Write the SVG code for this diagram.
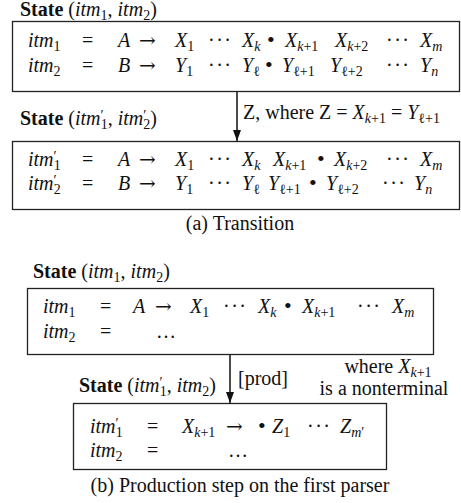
<svg xmlns="http://www.w3.org/2000/svg" width="461" height="503" viewBox="0 0 461 503" font-family="Liberation Serif, DejaVu Serif, serif">
  <style>
    text { font-family: "Liberation Serif", "DejaVu Serif", serif; font-size: 20px; fill: #111; }
    .i { font-style: italic; }
    .b { font-weight: bold; }
    .s { font-size: 14px; }
    .dots { letter-spacing: 1.5px; }
    .bul { font-size: 22px; }
    .arr { font-family: "DejaVu Serif", serif; font-size: 20px; }
    .mid { text-anchor: middle; }
    .box { fill: #fff; stroke: #222; stroke-width: 1.3; }
    .edge { stroke: #111; stroke-width: 1.5; fill: none; marker-end: url(#ah); }
  </style>
  <defs>
    <marker id="ah" viewBox="0 0 11 8" refX="11" refY="4" markerWidth="11" markerHeight="8" markerUnits="userSpaceOnUse" orient="auto">
      <path d="M0,0 L11,4 L0,8 z" fill="#111"/>
    </marker>
  </defs>

  <!-- (a) source state -->
  <g id="state-a1">
    <text x="20" y="16"><tspan class="b">State</tspan> (<tspan class="i">itm</tspan><tspan class="s" dy="4">1</tspan><tspan dy="-4">, </tspan><tspan class="i">itm</tspan><tspan class="s" dy="4">2</tspan><tspan dy="-4">)</tspan></text>
    <rect class="box" x="12.5" y="21.5" width="447" height="70"/>
    <text x="28" y="47"><tspan class="i">itm</tspan><tspan class="s" dy="4">1</tspan></text>
    <text x="82" y="47">=</text>
    <text x="118" y="47" class="i">A</text>
    <text x="139" y="47" class="arr">→</text>
    <text x="175" y="47"><tspan class="i">X</tspan><tspan class="s" dy="4">1</tspan></text>
    <text x="208" y="47" class="dots">···</text>
    <text x="242" y="47"><tspan class="i">X</tspan><tspan class="s i" dy="4">k</tspan></text>
    <text x="267" y="47" class="bul">•</text>
    <text x="285" y="47"><tspan class="i">X</tspan><tspan class="s" dy="4"><tspan class="i">k</tspan>+1</tspan></text>
    <text x="335" y="47"><tspan class="i">X</tspan><tspan class="s" dy="4"><tspan class="i">k</tspan>+2</tspan></text>
    <text x="386" y="47" class="dots">···</text>
    <text x="420" y="47"><tspan class="i">X</tspan><tspan class="s i" dy="4">m</tspan></text>

    <text x="28" y="72"><tspan class="i">itm</tspan><tspan class="s" dy="4">2</tspan></text>
    <text x="82" y="72">=</text>
    <text x="118" y="72" class="i">B</text>
    <text x="139" y="72" class="arr">→</text>
    <text x="175" y="72"><tspan class="i">Y</tspan><tspan class="s" dy="4">1</tspan></text>
    <text x="208" y="72" class="dots">···</text>
    <text x="242" y="72"><tspan class="i">Y</tspan><tspan class="s" dy="4">ℓ</tspan></text>
    <text x="265" y="72" class="bul">•</text>
    <text x="282" y="72"><tspan class="i">Y</tspan><tspan class="s" dy="4">ℓ+1</tspan></text>
    <text x="330" y="72"><tspan class="i">Y</tspan><tspan class="s" dy="4">ℓ+2</tspan></text>
    <text x="386" y="72" class="dots">···</text>
    <text x="420" y="72"><tspan class="i">Y</tspan><tspan class="s i" dy="4">n</tspan></text>
  </g>

  <!-- (a) target state -->
  <g id="state-a2">
    <text x="20" y="125"><tspan class="b">State</tspan> (<tspan class="i">itm</tspan><tspan class="s" dy="-5">′</tspan><tspan class="s" dx="-3" dy="9">1</tspan><tspan dy="-4">, </tspan><tspan class="i">itm</tspan><tspan class="s" dy="-5">′</tspan><tspan class="s" dx="-3" dy="9">2</tspan><tspan dy="-4">)</tspan></text>
    <rect class="box" x="12.5" y="141.5" width="447" height="68"/>
    <text x="28" y="166"><tspan class="i">itm</tspan><tspan class="s" dy="-5">′</tspan><tspan class="s" dx="-3" dy="9">1</tspan></text>
    <text x="82" y="166">=</text>
    <text x="118" y="166" class="i">A</text>
    <text x="139" y="166" class="arr">→</text>
    <text x="175" y="166"><tspan class="i">X</tspan><tspan class="s" dy="4">1</tspan></text>
    <text x="208" y="166" class="dots">···</text>
    <text x="242" y="166"><tspan class="i">X</tspan><tspan class="s i" dy="4">k</tspan></text>
    <text x="273" y="166"><tspan class="i">X</tspan><tspan class="s" dy="4"><tspan class="i">k</tspan>+1</tspan></text>
    <text x="317" y="166" class="bul">•</text>
    <text x="334" y="166"><tspan class="i">X</tspan><tspan class="s" dy="4"><tspan class="i">k</tspan>+2</tspan></text>
    <text x="386" y="166" class="dots">···</text>
    <text x="420" y="166"><tspan class="i">X</tspan><tspan class="s i" dy="4">m</tspan></text>

    <text x="28" y="190"><tspan class="i">itm</tspan><tspan class="s" dy="-5">′</tspan><tspan class="s" dx="-3" dy="9">2</tspan></text>
    <text x="82" y="190">=</text>
    <text x="118" y="190" class="i">B</text>
    <text x="139" y="190" class="arr">→</text>
    <text x="175" y="190"><tspan class="i">Y</tspan><tspan class="s" dy="4">1</tspan></text>
    <text x="208" y="190" class="dots">···</text>
    <text x="242" y="190"><tspan class="i">Y</tspan><tspan class="s" dy="4">ℓ</tspan></text>
    <text x="268" y="190"><tspan class="i">Y</tspan><tspan class="s" dy="4">ℓ+1</tspan></text>
    <text x="309" y="190" class="bul">•</text>
    <text x="326" y="190"><tspan class="i">Y</tspan><tspan class="s" dy="4">ℓ+2</tspan></text>
    <text x="382" y="190" class="dots">···</text>
    <text x="414" y="190"><tspan class="i">Y</tspan><tspan class="s i" dy="4">n</tspan></text>
  </g>

  <!-- (b) source state -->
  <g id="state-b1">
    <text x="33" y="278"><tspan class="b">State</tspan> (<tspan class="i">itm</tspan><tspan class="s" dy="4">1</tspan><tspan dy="-4">, </tspan><tspan class="i">itm</tspan><tspan class="s" dy="4">2</tspan><tspan dy="-4">)</tspan></text>
    <rect class="box" x="27.5" y="288.5" width="406" height="66"/>
    <text x="43" y="313"><tspan class="i">itm</tspan><tspan class="s" dy="4">1</tspan></text>
    <text x="100" y="313">=</text>
    <text x="133" y="313" class="i">A</text>
    <text x="155" y="313" class="arr">→</text>
    <text x="190" y="313"><tspan class="i">X</tspan><tspan class="s" dy="4">1</tspan></text>
    <text x="223" y="313" class="dots">···</text>
    <text x="258" y="313"><tspan class="i">X</tspan><tspan class="s i" dy="4">k</tspan></text>
    <text x="284" y="313" class="bul">•</text>
    <text x="302" y="313"><tspan class="i">X</tspan><tspan class="s" dy="4"><tspan class="i">k</tspan>+1</tspan></text>
    <text x="357" y="313" class="dots">···</text>
    <text x="392" y="313"><tspan class="i">X</tspan><tspan class="s i" dy="4">m</tspan></text>

    <text x="43" y="338"><tspan class="i">itm</tspan><tspan class="s" dy="4">2</tspan></text>
    <text x="100" y="338">=</text>
    <text x="156" y="338">…</text>
  </g>

  <!-- (b) target state -->
  <g id="state-b2">
    <text x="79" y="392"><tspan class="b">State</tspan> (<tspan class="i">itm</tspan><tspan class="s" dy="-5">′</tspan><tspan class="s" dx="-3" dy="9">1</tspan><tspan dy="-4">, </tspan><tspan class="i">itm</tspan><tspan class="s" dy="4">2</tspan><tspan dy="-4">)</tspan></text>
    <rect class="box" x="73.5" y="403.5" width="313" height="66"/>
    <text x="90" y="433"><tspan class="i">itm</tspan><tspan class="s" dy="-5">′</tspan><tspan class="s" dx="-3" dy="9">1</tspan></text>
    <text x="147" y="433">=</text>
    <text x="182" y="433"><tspan class="i">X</tspan><tspan class="s" dy="4"><tspan class="i">k</tspan>+1</tspan></text>
    <text x="226" y="433" class="arr">→</text>
    <text x="258" y="433" class="bul">•</text>
    <text x="272" y="433"><tspan class="i">Z</tspan><tspan class="s" dy="4">1</tspan></text>
    <text x="307" y="433" class="dots">···</text>
    <text x="340" y="433"><tspan class="i">Z</tspan><tspan class="s" dy="4"><tspan class="i">m</tspan>′</tspan></text>

    <text x="90" y="457"><tspan class="i">itm</tspan><tspan class="s" dy="4">2</tspan></text>
    <text x="147" y="457">=</text>
    <text x="228" y="457">…</text>
  </g>

  <!-- transitions -->
  <g id="connectors">
    <line class="edge" x1="237" y1="92" x2="237" y2="141"/>
    <text x="243" y="119">Z, where Z = <tspan class="i">X</tspan><tspan class="s" dy="4"><tspan class="i">k</tspan>+1</tspan><tspan dy="-4"> = </tspan><tspan class="i">Y</tspan><tspan class="s" dy="4">ℓ+1</tspan></text>

    <line class="edge" x1="230" y1="355" x2="230" y2="403"/>
    <text x="238" y="385">[prod]</text>
    <text x="388" y="373" class="mid">where <tspan class="i">X</tspan><tspan class="s" dy="4"><tspan class="i">k</tspan>+1</tspan></text>
    <text x="384" y="395" class="mid">is a nonterminal</text>
  </g>

  <!-- captions -->
  <text x="240" y="230" class="mid">(a) Transition</text>
  <text x="240" y="492" class="mid">(b) Production step on the first parser</text>
</svg>
